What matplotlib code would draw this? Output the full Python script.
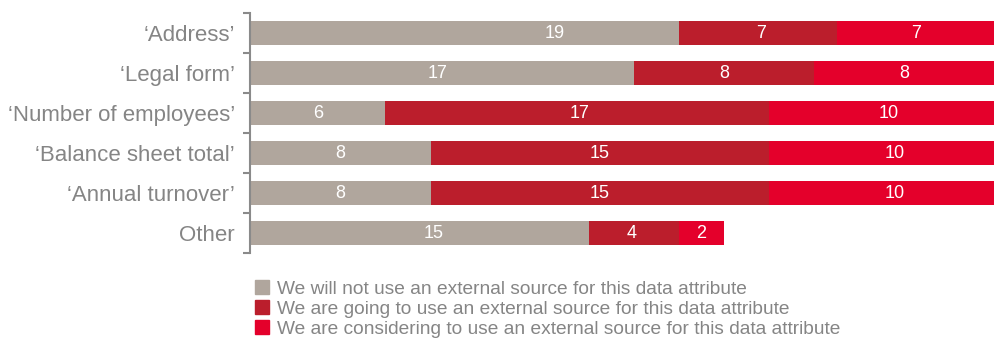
import matplotlib.pyplot as plt
from matplotlib.patches import Patch

plt.rcParams['font.family'] = ['Liberation Sans', 'DejaVu Sans']

categories = ["‘Address’", "‘Legal form’", "‘Number of employees’",
              "‘Balance sheet total’", "‘Annual turnover’", "Other"]
not_use = [19, 17, 6, 8, 8, 15]
going_to = [7, 8, 17, 15, 15, 4]
considering = [7, 8, 10, 10, 10, 2]
series_names = ["We will not use an external source for this data attribute",
                "We are going to use an external source for this data attribute",
                "We are considering to use an external source for this data attribute"]
colors = ["#b0a69d", "#bb1e2c", "#e4002b"]
txt_gray = "#858585"

# value labels in the original are not always centred in their segment
label_nudge = [[4.0, -0.2, 0, 0, 0, 0.65],
               [0.15, 0, 0.1, 0, 0, -0.1],
               [0, 0, 0.3, 0.55, 0.55, 0]]

fig = plt.figure(figsize=(9.95, 3.38), dpi=100)
ax = fig.add_axes([250 / 995, 85 / 338, 745 / 995, 240 / 338])

y = list(range(len(categories)))
left = [0] * len(categories)
for vals, col, nudge in zip([not_use, going_to, considering], colors, label_nudge):
    bars = ax.barh(y, vals, left=left, height=0.6, color=col)
    for b, v, n in zip(bars, vals, nudge):
        ax.text(b.get_x() + b.get_width() / 2 + n, b.get_y() + b.get_height() / 2, str(v),
                ha="center", va="center", color="white", fontsize=13)
    left = [l + v for l, v in zip(left, vals)]

ax.set_xlim(0, 33)
ax.set_ylim(5.5, -0.5)
ax.set_yticks(y)
ax.set_yticklabels(categories, fontsize=16, color=txt_gray)
ax.tick_params(axis="y", which="major", length=0, pad=11)
ax.set_yticks([i - 0.5 for i in range(len(categories) + 1)], minor=True)
ax.tick_params(axis="y", which="minor", length=5, width=1.5, color="#8a8a8a")
ax.set_xticks([])
for s in ["top", "right", "bottom"]:
    ax.spines[s].set_visible(False)
ax.spines["left"].set_color("#8a8a8a")
ax.spines["left"].set_linewidth(1.5)

handles = [Patch(color=c) for c in colors]
leg = fig.legend(handles, series_names, loc="upper left",
                 bbox_to_anchor=(255 / 995, 1 - 280 / 338), frameon=False,
                 fontsize=13.8, handlelength=0.75, handleheight=0.75,
                 handletextpad=0.4, labelspacing=0.12, borderpad=0, borderaxespad=0)
for t in leg.get_texts():
    t.set_color(txt_gray)

fig.savefig("out.png", dpi=100)
